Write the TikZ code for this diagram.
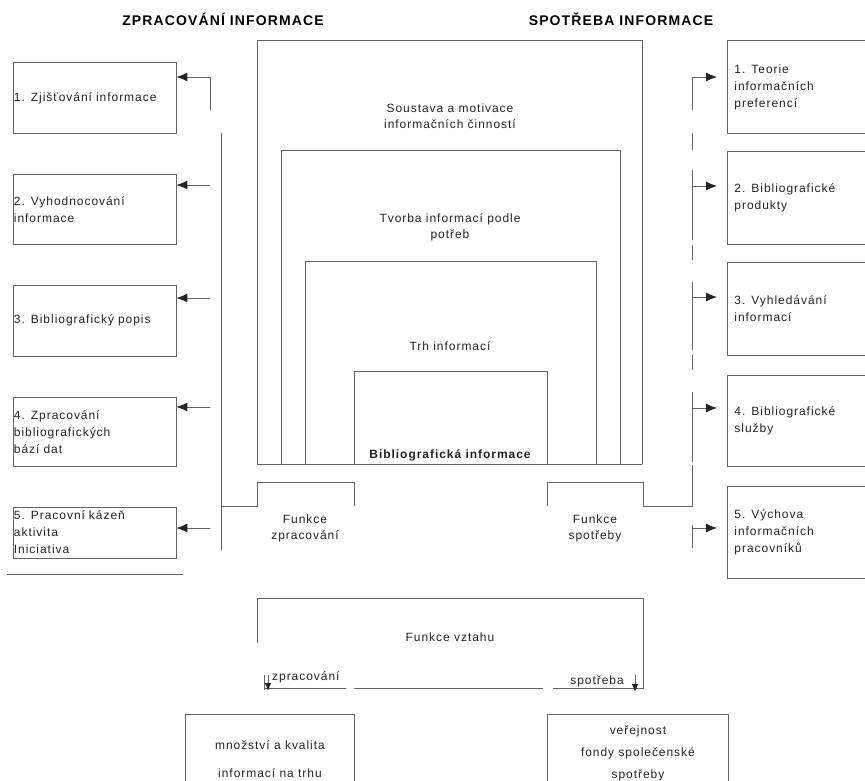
\documentclass[tikz,border=0pt]{standalone}
\usepackage{fontspec}
\setmainfont{Liberation Sans}[LetterSpace=8]
\usepackage{xcolor}
\definecolor{line-gray}{RGB}{100,100,100}
\definecolor{text-gray}{RGB}{35,35,35}
\usepackage{tikz}
\usetikzlibrary{arrows.meta,positioning}

\begin{document}
\begin{tikzpicture}[x=1pt, y=-1pt,
    wire/.style={line-gray, line width=0.9pt},
    left box/.style={wire, draw, text width=161pt, inner xsep=1pt, inner ysep=0pt, align=left, anchor=north west, font=\fontsize{12}{17}\selectfont, text=text-gray},
    right box/.style={wire, draw, text width=150pt, inner xsep=7pt, inner ysep=0pt, align=left, anchor=north west, minimum height=93pt, font=\fontsize{12}{17}\selectfont, text=text-gray},
    base box/.style={wire, draw, inner sep=0pt, align=center, anchor=north west, font=\fontsize{12}{17}\selectfont, text=text-gray},
    inner text/.style={font=\fontsize{12}{16}\selectfont, text=text-gray, align=center, inner sep=0pt},
    head text/.style={font=\fontsize{14}{17}\selectfont\bfseries, text=black},
    arrow/.style={-{Latex[length=11pt,width=9pt,color=text-gray]}, wire},
    small arrow/.style={-{Latex[length=8pt,width=6.5pt,color=text-gray]}, wire}
]
\useasboundingbox (0,0) rectangle (865,780);
\clip (0,0) rectangle (865,780);

% Column titles
\node[head text] (zpr-title) at (223,19) {ZPRACOVÁNÍ INFORMACE};
\node[head text] (spo-title) at (621,19) {SPOTŘEBA INFORMACE};

% Left column - processing
\node[left box, minimum height=71pt] (zjist) at (12.5,62) {1. Zjišťování informace};
\node[left box, minimum height=70pt, below=40pt of zjist] (vyhod) {2. Vyhodnocování\\informace};
\node[left box, minimum height=71pt, below=40pt of vyhod] (popis) {3. Bibliografický popis};
\node[left box, minimum height=69pt, below=40pt of popis] (baze) {4. Zpracování\\bibliografických\\bází dat};
\node[left box, minimum height=51pt, below=40pt of baze] (kazen) {5. Pracovní kázeň\\aktivita\\Iniciativa};

% Left spine and arrows
\draw[wire] (221,133) -- (221,550);
\draw[wire] (210,110) -- (210,77);
\foreach \b/\y in {zjist/77, vyhod/185, popis/298, baze/407, kazen/528} {
  \coordinate (l-\b) at (210,\y);
  \draw[arrow] (l-\b) -- (l-\b -| \b.east);
}
\draw[wire] (7,574) -- (183,574);

% Right column - consumption
\node[right box] (teorie) at (727,40) {1. Teorie\\informačních\\preferencí};
\node[right box, below=17pt of teorie] (produkty) {2. Bibliografické\\produkty};
\node[right box, below=17pt of produkty] (vyhled) {3. Vyhledávání\\informací};
\node[right box, minimum height=91pt, below=19pt of vyhled] (sluzby) {4. Bibliografické\\služby};
\node[right box, minimum height=92pt, below=19pt of sluzby] (vychova) {5. Výchova\\informačních\\pracovníků};

% Right spine and arrows
\draw[wire] (692,110) -- (692,77);
\foreach \a/\e in {133/150, 170/240, 245/260, 282/350, 355/370, 392/462, 525/548}
  \draw[wire] (692,\a) -- (692,\e);
\foreach \b/\y in {teorie/77, produkty/186, vyhled/297, sluzby/408, vychova/528} {
  \coordinate (r-\b) at (692,\y);
  \draw[arrow, shorten >=10pt] (r-\b) -- (r-\b -| \b.west);
}

% Nested fields
\foreach \l/\r/\t in {257/642/40, 281/620/150, 305/596/261, 354/547/371}
  \draw[wire] (\l,464) |- (\r,\t) -- (\r,464);
\draw[wire] (257,464) -- (642,464);
\node[inner text] (soustava) at (450,116.5) {Soustava a motivace\\informačních činností};
\node[inner text] (tvorba) at (450,227) {Tvorba informací podle\\potřeb};
\node[inner text] (trh) at (450,346) {Trh informací};
\node[inner text, font=\fontsize{12}{16}\selectfont\bfseries] (biblio) at (450,455) {Bibliografická informace};

% Function brackets
\draw[wire] (221,506) -- (257,506) |- (354,482) -- (354,506);
\draw[wire] (547,506) |- (643,482) -- (643,506) -- (692,506) -- (692,465);
\node[inner text] (f-zpr) at (305,528) {Funkce\\zpracování};
\node[inner text] (f-spo) at (595,528) {Funkce\\spotřeby};

% Relation function
\draw[wire] (257,643) |- (643,598) -- (643,688) -- (553,688);
\draw[wire] (354,688) -- (543,688);
\draw[wire] (265,688) -- (346,688);
\node[inner text] (vztah) at (450,637) {Funkce vztahu};
\node[inner text, anchor=west] (vz-zpr) at (272,677) {zpracování};
\node[inner text, anchor=east] (vz-spo) at (624,681) {spotřeba};
\draw[wire] (264,675) -- (264,690);
\coordinate (d-zpr) at (268,675);
\draw[small arrow] (d-zpr) -- ++(0,16);
\coordinate (d-spo) at (635,675);
\draw[small arrow] (d-spo) -- ++(0,17);

% Results
\node[base box, minimum width=169pt, minimum height=90pt] (mnozstvi) at (185,714) {množství a kvalita\\[11pt]informací na trhu};
\node[base box, minimum width=181pt, minimum height=78pt] (verejnost) at (547,714) {veřejnost\\[5pt]fondy společenské\\[5pt]spotřeby};

\end{tikzpicture}
\end{document}
